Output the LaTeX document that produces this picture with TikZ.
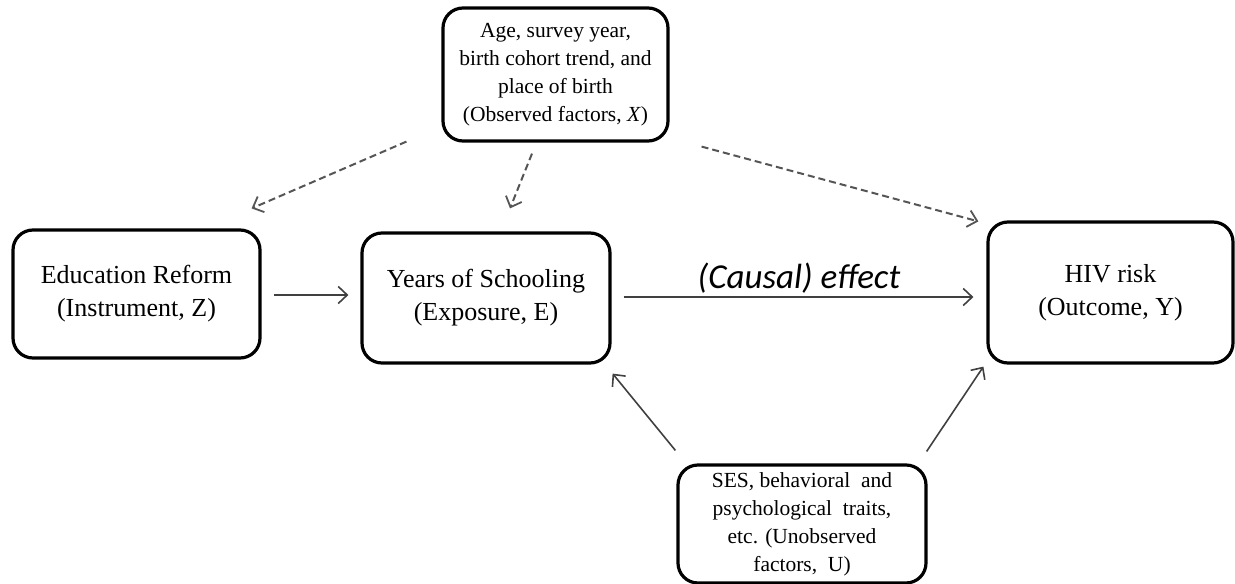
\documentclass[tikz,border=0pt]{standalone}
\usepackage{fontspec}
\setmainfont{Liberation Serif}
\newfontfamily\calfont{Carlito}
\usetikzlibrary{arrows.meta,calc}
\definecolor{arrgray}{HTML}{404040}
\definecolor{dashgray}{HTML}{555555}
\tikzset{
  box/.style={draw=black, line width=3.2pt, rounded corners=20pt, align=center, inner sep=4pt},
  bigtext/.style={font=\fontsize{26}{33}\selectfont},
  smalltext/.style={font=\fontsize{21.5}{28}\selectfont},
  solidarrow/.style={draw=arrgray, line width=1.6pt, -{Straight Barb[length=9pt,width=17pt,line width=1.6pt]}},
  dasharrow/.style={draw=dashgray, line width=2pt, dash pattern=on 7pt off 4pt, -{Straight Barb[length=9pt,width=17pt,line width=1.8pt]}}
}
\begin{document}
\begin{tikzpicture}[x=1pt,y=-1pt]
\useasboundingbox (0,0) rectangle (1235,584);
\node[box, smalltext, minimum width=225pt, minimum height=133pt] (X) at (555.5,74.5)
  {Age, survey year,\\ birth cohort trend, and\\ place of birth\\ (Observed factors, \textit{X})};
\node[box, bigtext, minimum width=247pt, minimum height=128pt] (Z) at (136.5,294)
  {Education Reform\\ (Instrument, Z)};
\node[box, bigtext, minimum width=248pt, minimum height=130pt] (E) at (486,298)
  {Years of Schooling\\ (Exposure, E)};
\node[box, bigtext, minimum width=245pt, minimum height=141pt] (Y) at (1110.5,292.5)
  {HIV risk\\ (Outcome, Y)};
\node[box, smalltext, minimum width=248pt, minimum height=118pt] (U) at (802,524)
  {SES, behavioral\ \ and\\ psychological\ \ traits,\\ etc. (Unobserved\\ factors,\ \ U)};
% solid arrows
\draw[solidarrow, shorten <=12pt, shorten >=12pt] ($(Z.east)+(0,1)$) -- ($(Z.east -| E.west)+(0,1)$);
\draw[solidarrow, shorten <=12pt, shorten >=13pt] ($(E.east)+(0,-1)$) -- ($(E.east -| Y.west)+(0,-1)$)
  node[midway, above=3pt, inner sep=0pt, font=\calfont\itshape\fontsize{35}{40}\selectfont] (lbl) {(Causal) effect};
\draw[solidarrow] ($(U.north west)+(-1,-13)$) -- ($(E.south east)+(1,9)$);
\draw[solidarrow] ($(U.north east)+(-1,-12)$) -- ($(Y.south west)+(-3,2)$);
% dashed arrows
\draw[dasharrow] ($(X.south west)+(-35,-1)$) -- ($(Z.north east)+(-10,-20)$);
\draw[dasharrow] ($(X.south)+(-23.5,11)$) -- ($(E.north)+(24,-23)$);
\draw[dasharrow] ($(X.south east)+(32,4)$) -- ($(Y.north west)+(-8,1)$);
\end{tikzpicture}
\end{document}
